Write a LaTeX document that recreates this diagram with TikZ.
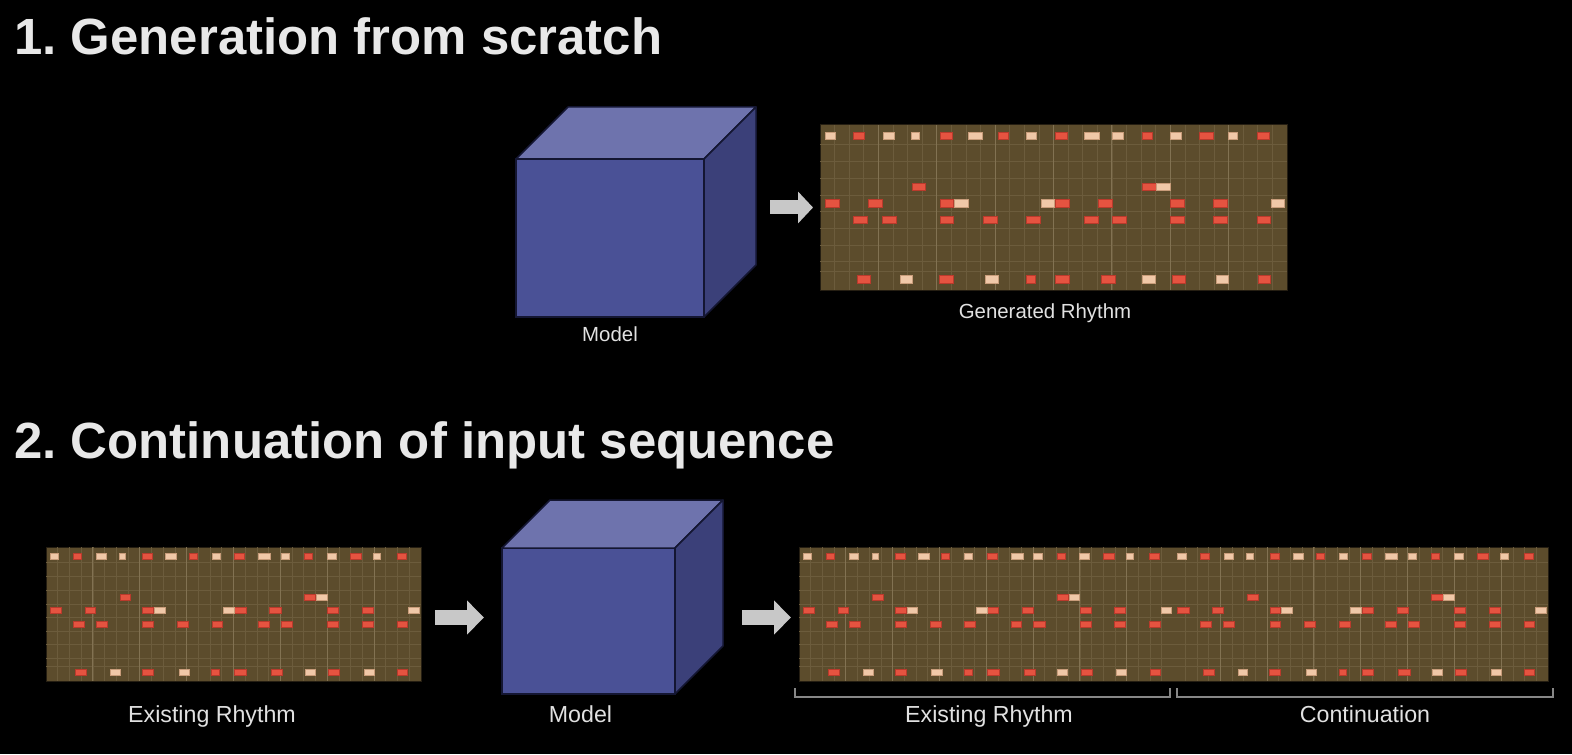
\documentclass[tikz,border=0pt]{standalone}
\usepackage{fontspec}
\setmainfont{Liberation Sans}
\usetikzlibrary{arrows.meta}
\frenchspacing
\definecolor{gridbg}{RGB}{92,76,44}
\definecolor{gridminor}{RGB}{108,92,60}
\definecolor{gridmajor}{RGB}{130,114,82}
\definecolor{notered}{RGB}{229,83,64}
\definecolor{noteredb}{RGB}{185,58,44}
\definecolor{notelight}{RGB}{240,200,168}
\definecolor{notelightb}{RGB}{200,156,122}
\definecolor{cubefront}{RGB}{74,81,150}
\definecolor{cubetop}{RGB}{110,115,173}
\definecolor{cubeside}{RGB}{59,64,121}
\definecolor{cubeline}{RGB}{20,22,50}
\definecolor{arrowgray}{RGB}{200,200,200}
\definecolor{titlecol}{RGB}{232,232,232}
\definecolor{labelcol}{RGB}{225,225,225}
\definecolor{bracketcol}{RGB}{135,135,135}
\tikzset{
 title/.style={anchor=base west, inner sep=0pt, text=titlecol, font=\fontsize{25.45}{30}\selectfont\bfseries\frenchspacing},
 smalllabel/.style={anchor=base, inner sep=0pt, text=labelcol, font=\fontsize{10.2}{12}\selectfont},
 biglabel/.style={anchor=base, inner sep=0pt, text=labelcol, font=\fontsize{11.6}{14}\selectfont},
 gridbox/.style={rectangle, fill=gridbg, draw=black!60!gridbg, line width=0.5pt, inner sep=0pt, outer sep=0pt},
 cubebox/.style={rectangle, fill=cubefront, draw=cubeline, line width=0.75pt, inner sep=0pt, outer sep=0pt},
 facetop/.style={fill=cubetop, draw=cubeline, line width=0.75pt, line join=round},
 faceside/.style={fill=cubeside, draw=cubeline, line width=0.75pt, line join=round},
 blockarrow/.style={draw=arrowgray, line width=7pt, -{Triangle[length=7.5pt,width=15.5pt]}},
 bigarrow/.style={draw=arrowgray, line width=7.5pt, -{Triangle[length=8.5pt,width=16.5pt]}},
 bracketline/.style={draw=bracketcol, line width=0.75pt},
 redn/.style={fill=notered, draw=noteredb, line width=0.3pt},
 lightn/.style={fill=notelight, draw=notelightb, line width=0.3pt},
 minorline/.style={draw=gridminor, line width=0.35pt},
 majorline/.style={draw=gridmajor, line width=0.5pt},
}
\newcommand{\drumgrid}{%
 \foreach \k in {1,...,31} {\draw[minorline] (\k*43.656,0) -- (\k*43.656,495);}
 \foreach \v in {58,109,160,210,260,310,360,410,440} {\draw[minorline] (0,\v) -- (1397,\v);}
 \foreach \k in {4,8,...,28} {\draw[majorline] (\k*43.656,0) -- (\k*43.656,495);}
 \foreach \a/\b/\v in {101/133/33, 360/395/33, 532/562/33, 703/739/33, 963/993/33, 1135/1175/33, 1307/1343/33,
   275/315/185, 963/1005/185,
   15/57/235, 145/185/235, 360/400/235, 703/745/235, 833/875/235, 1048/1090/235, 1177/1219/235,
   101/141/285, 187/227/285, 360/400/285, 488/530/285, 618/658/285, 791/831/285, 875/917/285, 1048/1090/285, 1177/1219/285, 1307/1347/285,
   111/151/463, 358/400/463, 617/645/463, 703/747/463, 840/882/463, 1053/1093/463, 1310/1347/463}
   {\path[redn] (\a,\v-11) rectangle (\b,\v+11);}
 \foreach \a/\b/\v in {15/47/33, 188/223/33, 273/297/33, 445/485/33, 618/648/33, 791/835/33, 875/907/33, 1047/1082/33, 1220/1247/33,
   1007/1047/185,
   403/443/235, 661/701/235, 1350/1390/235,
   240/277/463, 495/533/463, 965/1002/463, 1185/1222/463}
   {\path[lightn] (\a,\v-11) rectangle (\b,\v+11);}
}
\begin{document}
\begin{tikzpicture}[x=0.5pt,y=-0.5pt]
\fill[black] (0,0) rectangle (1572,754);
\useasboundingbox (0,0) rectangle (1572,754);

% titles
\node[title] (t1) at (14,55) {1. Generation from scratch};
\node[title] (t2) at (14,458) {2. Continuation of input sequence};

% ---------- part 1 ----------
\node[cubebox, minimum width=94pt, minimum height=79pt] (c1) at (610,238) {};
\draw[facetop] (c1.north west) -- ++(52,-52) -- ++(188,0) -- (c1.north east) -- cycle;
\draw[faceside] (c1.north east) -- ++(52,-52) -- ++(0,158) -- (c1.south east) -- cycle;
\coordinate (c1r) at ([xshift=26pt]c1.east);
\node[smalllabel] (m1) at ([yshift=-12.25pt]c1.south) {Model};

\node[gridbox, minimum width=233.5pt, minimum height=82.5pt] (g0) at (1053.5,207.5) {};
\begin{scope}[shift={(g0.north west)}, x=0.16714pt, y=-0.16667pt]
 \drumgrid
\end{scope}
\node[smalllabel] (gl0) at ([xshift=-4.25pt,yshift=-14pt]g0.south) {Generated Rhythm};

\draw[blockarrow, shorten <=7pt, shorten >=3.5pt] (c1r |- g0.west) -- (g0.west);

% ---------- part 2 ----------
\node[gridbox, minimum width=187.5pt, minimum height=67pt] (g1) at (233.5,614) {};
\begin{scope}[shift={(g1.north west)}, x=0.13422pt, y=-0.13535pt]
 \drumgrid
\end{scope}

\node[cubebox, minimum width=86.5pt, minimum height=73pt] (c2) at (588.5,621) {};
\draw[facetop] (c2.north west) -- ++(48,-48) -- ++(173,0) -- (c2.north east) -- cycle;
\draw[faceside] (c2.north east) -- ++(48,-48) -- ++(0,146) -- (c2.south east) -- cycle;
\coordinate (c2r) at ([xshift=24pt]c2.east);

\node[gridbox, minimum width=374.5pt, minimum height=67pt] (g2) at (1173.5,614) {};
\begin{scope}[shift={(g2.north west)}, x=0.13404pt, y=-0.13535pt]
 \drumgrid
\end{scope}
\begin{scope}[shift={(g2.north)}, x=0.13404pt, y=-0.13535pt]
 \drumgrid
\end{scope}

\coordinate (a1s) at ([yshift=-1.75pt]g1.east);
\draw[bigarrow, shorten <=7pt, shorten >=9pt] (a1s) -- (a1s -| c2.west);
\draw[bigarrow, shorten <=9.5pt, shorten >=4pt] (c2r |- a1s) -- (a1s -| g2.west);

% brackets
\draw[bracketline] (795,688) -- (795,697) -- (1170,697) -- (1170,688);
\draw[bracketline] (1177,688) -- (1177,697) -- (1553,697) -- (1553,688);

% labels
\node[biglabel] (l1) at (212,722) {Existing Rhythm};
\node[biglabel] (m2) at (580.5,722) {Model};
\node[biglabel] (l2) at (989,722) {Existing Rhythm};
\node[biglabel] (l3) at (1365,722) {Continuation};
\end{tikzpicture}
\end{document}
